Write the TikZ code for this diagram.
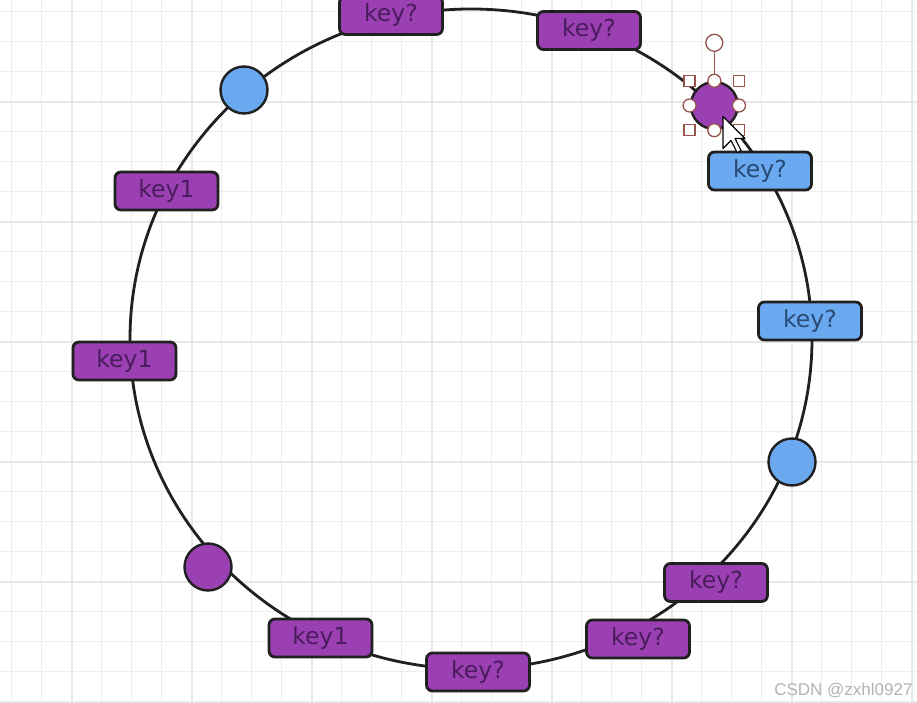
\documentclass[tikz,border=0pt]{standalone}
\usepackage{fontspec}
\setmainfont{DejaVu Sans}
\newfontfamily\wmfont{Liberation Sans}
\definecolor{kpurple}{RGB}{155,64,178}
\definecolor{kblue}{RGB}{106,169,240}
\definecolor{kline}{RGB}{32,32,32}
\definecolor{kptext}{RGB}{74,28,94}
\definecolor{kbtext}{RGB}{40,74,116}
\definecolor{kgrid}{RGB}{237,237,237}
\definecolor{kgridmaj}{RGB}{231,231,231}
\definecolor{khandle}{RGB}{150,84,76}
\definecolor{kwm}{RGB}{180,180,180}
\tikzset{
  keybox/.style={rectangle, rounded corners=6pt, draw=kline, line width=2.8pt,
    minimum width=103pt, minimum height=38pt, inner sep=0pt,
    font=\fontsize{23.5}{27}\selectfont},
  purplebox/.style={keybox, fill=kpurple, text=kptext},
  bluebox/.style={keybox, fill=kblue, text=kbtext},
  dot/.style={circle, draw=kline, line width=2.4pt, minimum size=47pt, inner sep=0pt},
  ring/.style={draw=kline, line width=2.8pt},
  gridminor/.style={draw=kgrid, line width=1.4pt},
  gridmajor/.style={draw=kgridmaj, line width=1.8pt},
  handle/.style={draw=khandle, fill=white, line width=1.3pt, inner sep=0pt},
  handlesq/.style={handle, rectangle, minimum size=11pt},
  handlecirc/.style={handle, circle, minimum size=13pt},
  pointer/.style={draw=black, fill=white, line width=1.1pt, line join=round},
}
\begin{document}
\begin{tikzpicture}[x=1pt,y=-1pt]
\useasboundingbox (0,0) rectangle (917,703);
\fill[white] (0,0) rectangle (917,703);
% grid
\foreach \i in {0,...,30} {\draw[gridminor] ({11.7+30*\i},0) -- ({11.7+30*\i},703);}
\foreach \i in {0,...,23} {\draw[gridminor] (0,{11.7+30*\i}) -- (917,{11.7+30*\i});}
\foreach \i in {0,...,7} {\draw[gridmajor] ({71.7+120*\i},0) -- ({71.7+120*\i},703);}
\foreach \i in {0,...,5} {\draw[gridmajor] (0,{101.7+120*\i}) -- (917,{101.7+120*\i});}
% ring
\draw[ring] (471,339) ellipse [x radius=341, y radius=330];
% nodes on the ring
\node[purplebox] (t1) at (391,15.5) {key?};
\node[purplebox] (t2) at (589,30.5) {key?};
\node[dot, fill=kpurple] (sel) at (714.3,105.5) {};
\node[bluebox] (b1) at (760,171) {key?};
\node[bluebox] (b2) at (810,321) {key?};
\node[dot, fill=kblue] (bc) at (792,462) {};
\node[purplebox] (p1) at (716,582.5) {key?};
\node[purplebox] (p2) at (638,639) {key?};
\node[purplebox] (p3) at (478,672) {key?};
\node[purplebox] (k3) at (320.5,638) {key1};
\node[dot, fill=kpurple] (pc) at (208,567) {};
\node[purplebox] (k2) at (124.5,361) {key1};
\node[purplebox] (k1) at (166.5,191) {key1};
\node[dot, fill=kblue] (bc2) at (244,90) {};
% selection handles
\node[handlesq] (hnw) at (sel.west |- sel.north) {};
\node[handlesq] (hne) at (sel.east |- sel.north) {};
\node[handlesq] (hsw) at (sel.west |- sel.south) {};
\node[handlesq] (hse) at (sel.east |- sel.south) {};
\node[handlecirc] (hn) at (sel.north) {};
\node[handlecirc] (hs) at (sel.south) {};
\node[handlecirc] (hw) at (sel.west) {};
\node[handlecirc] (he) at (sel.east) {};
\node[handle, circle, minimum size=17pt] (hrot) at ([yshift=38pt]sel.north) {};
\draw[khandle, line width=1.3pt] (hrot) -- (hn);
% mouse pointer
\draw[pointer, shift={(723,116.5)}, x=2pt, y=-2pt]
  (0,0) -- (0,16) -- (4,12) -- (7,18) -- (9,17) -- (6,11) -- (11,11) -- cycle;
% watermark
\node[anchor=base east, text=kwm, font=\wmfont\fontsize{17}{20}\selectfont, inner sep=0pt] (wm) at (912.7,695) {CSDN @zxhl0927};
\end{tikzpicture}
\end{document}
